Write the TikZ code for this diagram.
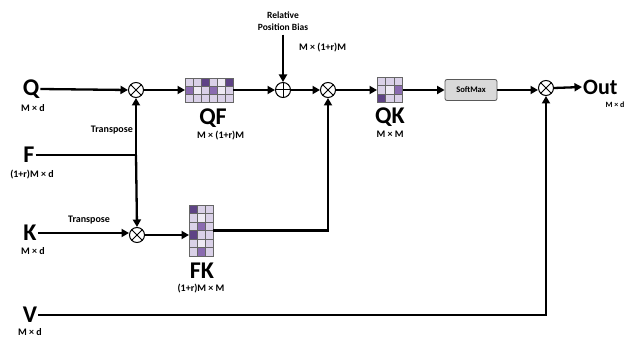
\documentclass[tikz,border=0pt]{standalone}
\usepackage{fontspec}
\setmainfont{Carlito}
\usetikzlibrary{arrows.meta}
\definecolor{ca}{HTML}{EEEAF4}
\definecolor{cb}{HTML}{DAD1E8}
\definecolor{cc}{HTML}{8A6BB0}
\definecolor{cd}{HTML}{5E4385}
\definecolor{smfill}{HTML}{D9D9D9}
\tikzset{
  wire/.style={line width=2.3pt},
  arr/.style={line width=2.3pt,-{Triangle[length=7.5pt,width=8pt]}},
  big/.style={font=\bfseries\fontsize{24}{25}\selectfont,inner sep=1pt},
  dim/.style={font=\bfseries\fontsize{10}{11}\selectfont,inner sep=1pt},
  note/.style={font=\bfseries\fontsize{10}{11.5}\selectfont,inner sep=1pt},
  mul/.style={circle,draw,line width=1pt,minimum size=15pt,inner sep=0pt,
    path picture={\draw[line width=1pt]
      (path picture bounding box.north west)--(path picture bounding box.south east)
      (path picture bounding box.north east)--(path picture bounding box.south west);}},
  plus/.style={circle,draw,line width=1pt,minimum size=15pt,inner sep=0pt,
    path picture={\draw[line width=1pt]
      (path picture bounding box.north)--(path picture bounding box.south)
      (path picture bounding box.east)--(path picture bounding box.west);}},
  mat/.style={rectangle,inner sep=0pt,outer sep=0pt},
  cell/.style={draw=black!60,line width=0.6pt},
}
% cell grid: #1 top-left x, #2 top-left y, #3 cell width, #4 cell height, #5 rows of colours
\newcommand{\cellgrid}[5]{%
  \foreach \rr/\lst in {#5}{%
    \foreach \cl [count=\ci from 0] in \lst{%
      \filldraw[cell,fill=\cl] ({#1+\ci*#3},{#2+\rr*#4}) rectangle ++(#3,#4);
    }%
  }%
}
\begin{document}
\begin{tikzpicture}[x=1pt,y=-1pt]
\useasboundingbox (0,0) rectangle (632,339);

% inputs
\node[big] (q) at (31,89) {Q};
\node[dim] (qd) at (33,108) {M × d};
\node[big] (f) at (29,155) {F};
\node[dim] (fd) at (32,175) {(1+r)M × d};
\node[big] (k) at (30,233) {K};
\node[dim] (kd) at (33,251) {M × d};
\node[big] (v) at (30,315) {V};
\node[dim] (vd) at (30,332) {M × d};

% operators
\node[mul] (m1) at (136,90) {};
\node[mul] (m2) at (137,235) {};
\node[plus] (add) at (283,90) {};
\node[mul] (m3) at (328,90) {};
\node[mul] (m4) at (546,88) {};

% matrices
\node[mat,minimum width=48pt,minimum height=24pt] (qf) at (209,90) {};
\cellgrid{185}{78}{8}{8}{0/{cb,cb,cd,cb,ca,cd},1/{cc,ca,cb,cc,ca,cb},2/{cb,cb,cb,cb,cb,cb}}
\node[big] (qfl) at (213,118) {QF};
\node[dim,anchor=west] (qfd) at (196,136) {M × (1+r)M};

\node[mat,minimum width=25.5pt,minimum height=25.5pt] (qk) at (389.75,90) {};
\cellgrid{377}{77.25}{8.5}{8.5}{0/{cb,cb,cb},1/{cb,ca,cc},2/{cd,cb,cb}}
\node[big] (qkl) at (390,117) {QK};
\node[dim] (qkd) at (390,134) {M × M};

\node[mat,minimum width=24pt,minimum height=51pt] (fk) at (201,230.5) {};
\cellgrid{189}{205}{8}{8.5}{0/{cd,cb,cb},1/{cb,ca,cb},2/{cb,cc,cb},3/{cd,cb,cb},4/{cb,ca,cb},5/{cb,cc,cb}}
\node[big] (fkl) at (202,271) {FK};
\node[dim] (fkd) at (201,289) {(1+r)M × M};

% softmax and output
\node[draw=black!65,fill=smfill,rounded corners=2pt,line width=0.8pt,
      minimum width=52pt,minimum height=21pt,inner sep=0pt,
      font=\bfseries\fontsize{8.5}{9}\selectfont] (sm) at (471,90) {SoftMax};
\node[big,anchor=west,font=\bfseries\fontsize{22}{23}\selectfont] (out) at (582,87) {Out};
\node[dim,font=\bfseries\fontsize{8}{9}\selectfont] (outd) at (615,105) {M × d};

% labels
\node[note,align=center,font=\bfseries\fontsize{9.5}{12}\selectfont] (rpb) at (283,21) {Relative\\Position Bias};
\node[dim,anchor=west] (bd) at (298,48) {M × (1+r)M};
\node[note,anchor=east] (t1) at (134,130) {Transpose};
\node[note] (t2) at (89,220) {Transpose};

% connectors
\coordinate (j) at (136,155);
\draw[arr] (q.east) -- (m1.west);
\draw[wire] (f.east) -- (j);
\draw[arr] (j) -- (m1.south);
\draw[arr] (j) -- (m2.north);
\draw[arr] (k.east) -- (k -| m2.west);
\draw[arr] (m2.east) -- (m2 -| fk.west);
\draw[arr] (m1.east) -- (m1 -| qf.west);
\draw[arr] (qf.east) -- (add.west);
\draw[arr] (rpb.south) ++(0,3) -- (add.north);
\draw[arr] (add.east) -- (m3.west);
\draw[arr] (fk.east) -| (m3.south);
\draw[arr] (m3.east) -- (qk.west);
\draw[arr] (qk.east) -- (sm.west);
\draw[arr] (sm.east) -- (sm -| m4.west);
\draw[arr] (m4.east) -- (out.west);
\draw[arr] (v.east) -| (m4.south);
\end{tikzpicture}
\end{document}
